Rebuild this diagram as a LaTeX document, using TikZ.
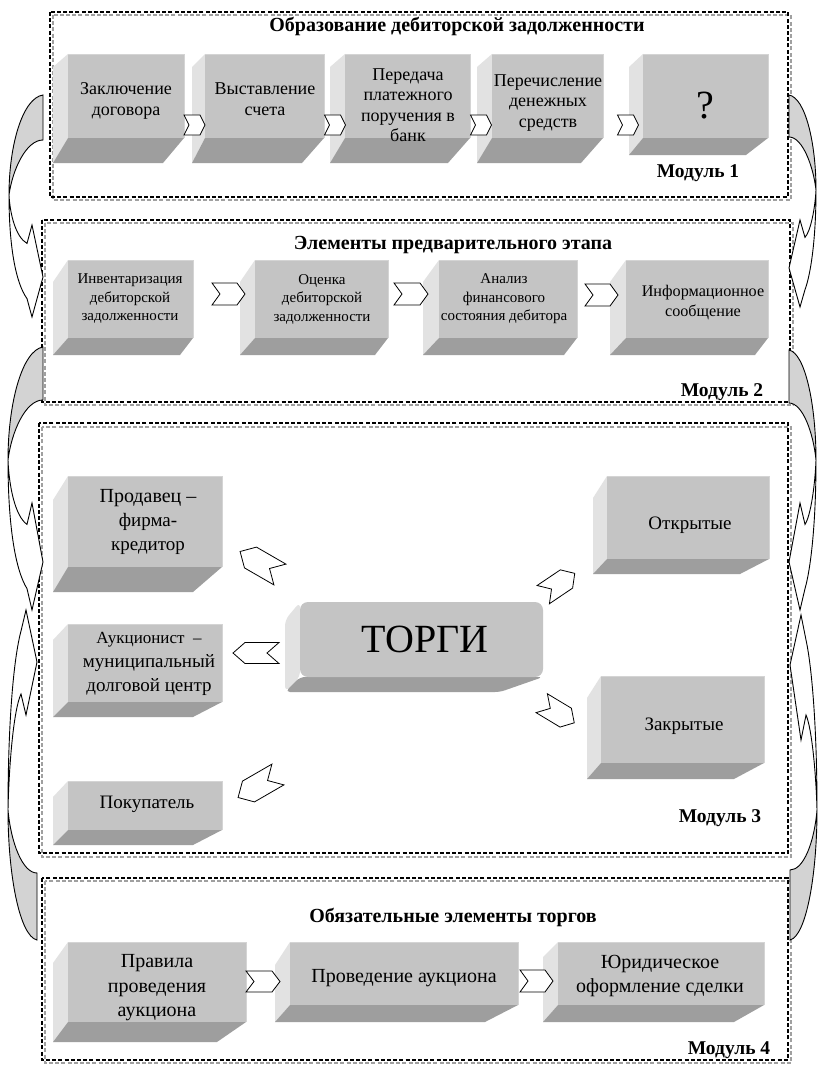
\documentclass[tikz,border=0pt]{standalone}
\usepackage{fontspec}
\setmainfont{Liberation Serif}
\usetikzlibrary{calc}
\definecolor{bfront}{HTML}{C4C4C4}
\definecolor{bleft}{HTML}{E2E2E2}
\definecolor{bbot}{HTML}{9E9E9E}
\definecolor{bhl}{HTML}{D4D4D4}
\definecolor{crescol}{HTML}{D3D3D3}
\definecolor{fgray}{HTML}{A0A0A0}
% 3D bevel box: fx1 fy1 fx2 fy2 dx dz dy1 ri
\newcommand\bevbox[8]{%
 \fill[bleft] ({#1-#5},{#2+#7}) -- (#1,#2) -- (#1,#4) -- ({#1-#5},{#4+#6}) -- cycle;
 \fill[bbot] ({#1-#5},{#4+#6}) -- (#1,#4) -- (#3,#4) -- ({#3-#8},{#4+#6}) -- cycle;
 \fill[bfront] (#1,#2) rectangle (#3,#4);
 \draw[bhl, line width=0.8pt] (#1,#2) -- (#3,#2) -- (#3,#4);
}
% chevron: cx cy angle L H d
\newcommand\chev[6]{%
 \begin{scope}[shift={(#1,#2)},rotate=#3]
 \draw[chevst] ({-#4/2},{-#5/2}) -- ({#4/2-#6},{-#5/2}) -- ({#4/2},0) -- ({#4/2-#6},{#5/2}) -- ({-#4/2},{#5/2}) -- ({-#4/2+#6},0) -- cycle;
 \end{scope}}
% curved arrow: x y xs ys t L Bn T Bf (width in \cW)
\newcommand\carrow[9]{%
 \begin{scope}[shift={(#1,#2)},xscale=#3,yscale=#4]
 \pgfmathsetmacro\cNn{#7+0.2*(#9-#7)}
 \pgfmathsetmacro\cNf{#9-0.2*(#9-#7)}
 \filldraw[crest] (0,0) .. controls ({-0.6*\cW},{0.03*#6}) and ({-\cW},{0.5*#6}) .. ({-\cW},#6) .. controls ({-0.9*\cW},{0.75*#6}) and ({-0.5*\cW},#5) .. (0,#5) -- cycle;
 \filldraw[bandst] ({-\cW},#6) .. controls ({-\cW},{#6+0.5*(\cNf-#6)}) and ({-0.8*\cW},{\cNf-0.15*(\cNf-#6)}) .. (-16,\cNf) -- (-11,#9) -- (0,#8) -- (-11,#7) -- (-16,\cNn) .. controls ({-0.8*\cW},{\cNn-0.13*(\cNn-#6)}) and ({-\cW+1},{#6+0.4*(\cNn-#6)}) .. ({-\cW},#6) -- cycle;
 \end{scope}}
\begin{document}
\begin{tikzpicture}[x=1pt,y=-1pt,
 chevst/.style={draw=black, fill=white, line width=0.8pt, line join=miter},
 crest/.style={draw=black, fill=crescol, line width=0.9pt},
 bandst/.style={draw=black, fill=white, line width=0.9pt},
 fblk/.style={draw=black, line width=1.3pt, dash pattern=on 4pt off 2.2pt},
 fgry/.style={draw=fgray, line width=1.3pt, dash pattern=on 4pt off 2.2pt},
 ttl/.style={inner sep=0pt, font=\fontsize{20}{22}\selectfont\bfseries},
 lbl/.style={inner sep=0pt, font=\fontsize{19.5}{22}\selectfont\bfseries},
 t1/.style={inner sep=0pt, align=center, font=\fontsize{18}{20.5}\selectfont},
 t2/.style={inner sep=0pt, align=center, font=\fontsize{15}{18.5}\selectfont},
 t3/.style={inner sep=0pt, align=center, font=\fontsize{19}{24}\selectfont},
 t4/.style={inner sep=0pt, align=center, font=\fontsize{20}{24.5}\selectfont}]
\useasboundingbox (0,0) rectangle (817,1065);
\fill[white] (0,0) rectangle (817,1065);

% ---------- frames ----------
\draw[fgry] (53,15) rectangle (791,200);
\draw[fblk] (50,12) rectangle (788,197);
\draw[fgry] (45,223) rectangle (793,405);
\draw[fblk] (42,220) rectangle (790,402);
\draw[fgry] (42,427) rectangle (791,857);
\draw[fblk] (39,423) rectangle (788,853);
\draw[fgry] (45,881) rectangle (791,1063);
\draw[fblk] (42,878) rectangle (788,1060);

% ---------- curved arrows ----------
\def\cW{34}\carrow{43}{95}{1}{1}{45}{100}{130}{182}{222}
\def\cW{35}\carrow{43}{347}{1}{1}{53}{113}{156}{215}{263}
\def\cW{29}\carrow{37}{940}{1}{-1}{67}{130}{225}{278}{330}
\def\cW{27}\carrow{789}{95}{-1}{1}{42}{95}{125}{173}{212}
\def\cW{27}\carrow{789}{350}{-1}{1}{53}{110}{153}{212}{260}
\def\cW{27}\carrow{790}{940}{-1}{-1}{70}{130}{200}{275}{325}

% ---------- Module 1 ----------
\node[ttl] (t1) at (457,26) {Образование дебиторской задолженности};
\bevbox{68}{54}{184}{138}{15}{25}{13}{21}
\bevbox{205}{54}{324}{138}{13}{25}{13}{22}
\bevbox{345}{54}{470}{138}{15}{25}{13}{22}
\bevbox{492}{54}{603}{138}{15}{25}{13}{22}
\bevbox{643}{54}{768}{138}{14}{17}{13}{22}
\node[t1] (m1a) at (126,101) {Заключение\\договора};
\node[t1] (m1b) at (265,99) {Выставление\\счета};
\node[t1] (m1c) at (408,105) {Передача\\платежного\\поручения в\\банк};
\node[t1] (m1d) at (548,103) {Перечисление\\денежных\\средств};
\node[inner sep=0pt, font=\fontsize{40}{40}\selectfont] (m1e) at (705,106) {?};
\chev{194.5}{125}{0}{21}{20}{5}
\chev{335}{125}{0}{21}{20}{5}
\chev{481}{125}{0}{21}{20}{5}
\chev{628}{125}{0}{21}{20}{5}
\node[lbl] (l1) at (698,173) {Модуль 1};

% ---------- Module 2 ----------
\node[ttl] (t2) at (453,245) {Элементы предварительного этапа};
\bevbox{68}{260}{193}{338}{15}{17}{22}{13}
\bevbox{255}{260}{388}{338}{15}{17}{22}{13}
\bevbox{439}{260}{577}{338}{16}{17}{22}{13}
\bevbox{626}{260}{768}{338}{16}{17}{22}{13}
\node[t2] (m2a) at (130,299) {Инвентаризация\\дебиторской\\задолженности};
\node[t2] (m2b) at (322,299) {Оценка\\дебиторской\\задолженности};
\node[t2] (m2c) at (504,299) {Анализ\\финансового\\состояния дебитора};
\node[inner sep=0pt, align=center, font=\fontsize{16.2}{20}\selectfont] (m2d) at (703,303) {Информационное\\сообщение};
\chev{228.5}{294}{0}{33}{22}{8}
\chev{411}{294}{0}{34}{22}{8}
\chev{601.5}{295}{0}{33}{22}{8}
\node[lbl] (l2) at (722,392) {Модуль 2};

% ---------- Module 3 ----------
\bevbox{68}{476}{222}{567}{15}{25}{24}{29}
\bevbox{68}{624}{222}{702}{15}{15}{16}{29}
\bevbox{68}{781}{222}{830}{15}{15}{16}{29}
\bevbox{607}{476}{769}{559}{14}{15}{22}{29}
\bevbox{601}{676}{764}{763}{14}{16}{22}{30}
% TORGI rounded bevel box
\fill[bleft, rounded corners=6pt] (285,620) -- (300,602) -- (300,677) -- (285,692) -- cycle;
\fill[bbot, rounded corners=5pt] (285,692) -- (300,677) -- (543,677) -- (500,692) -- cycle;
\fill[bfront, rounded corners=8pt] (300,602) rectangle (543,677);
\node[t3] (m3s) at (148,522) {\fontsize{20}{25}\selectfont Продавец –\\фирма-\\кредитор};
\node[t3] (m3a) at (149,664) {\fontsize{17}{20}\selectfont Аукционист~~–\\муниципальный\\долговой центр};
\node[t3] (m3p) at (147,804) {Покупатель};
\node[inner sep=0pt, font=\fontsize{40}{40}\selectfont] (m3t) at (425,639) {ТОРГИ};
\node[inner sep=0pt, font=\fontsize{19}{22}\selectfont] (m3o) at (690,525) {Открытые};
\node[inner sep=0pt, font=\fontsize{19}{22}\selectfont] (m3z) at (684,726) {Закрытые};
\chev{260}{563}{150}{46}{24}{12}
\chev{256}{653}{180}{46}{21}{12}
\chev{258}{786}{210}{46}{24}{12}
\chev{559}{584}{34}{38}{22}{10}
\chev{558}{713}{-31}{38}{22}{10}
\node[lbl] (l3) at (720,818) {Модуль 3};

% ---------- Module 4 ----------
\node[ttl] (t4) at (453,917) {Обязательные элементы торгов};
\bevbox{68}{942}{246}{1022}{15}{20}{21}{29}
\bevbox{290}{942}{518}{1005}{15}{17}{23}{33}
\bevbox{558}{942}{764}{1005}{15}{17}{15}{30}
\node[t4] (m4a) at (157,988) {Правила\\проведения\\аукциона};
\node[t4] (m4b) at (404,978) {Проведение аукциона};
\node[t4] (m4c) at (660,976) {Юридическое\\оформление сделки};
\chev{263}{981.5}{0}{34}{21}{8}
\chev{536.5}{981}{0}{33}{22}{8}
\node[lbl] (l4) at (729,1050) {Модуль 4};
\end{tikzpicture}
\end{document}
